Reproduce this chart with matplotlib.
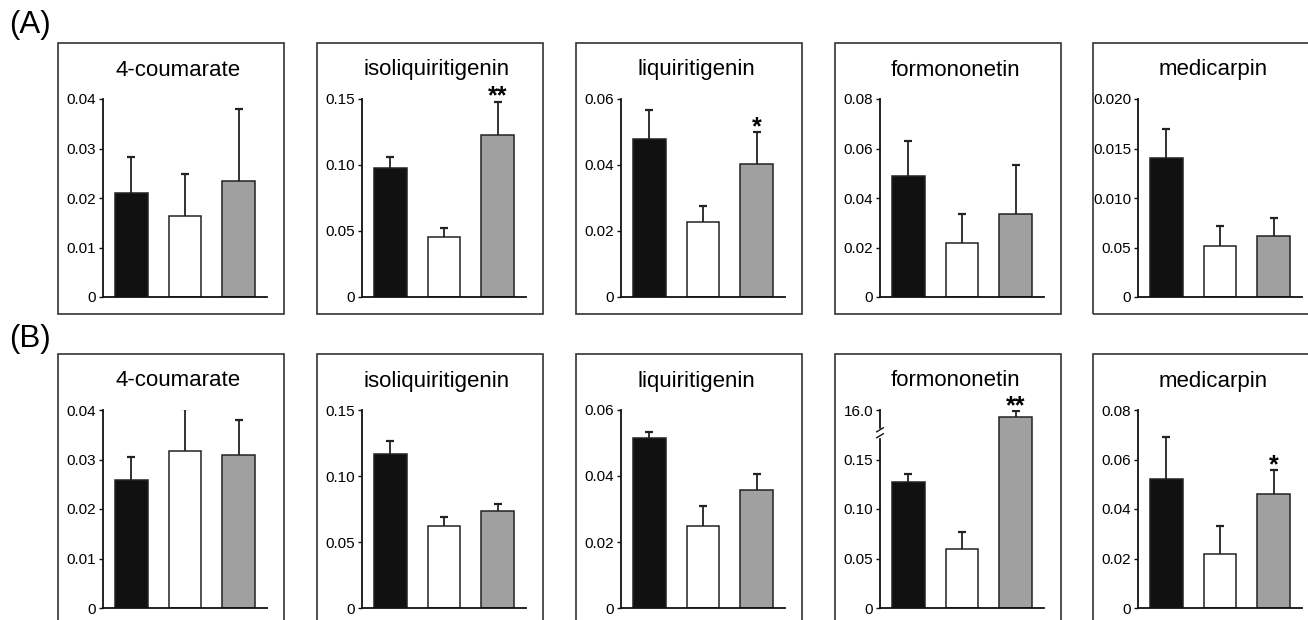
import matplotlib.pyplot as plt
import matplotlib.transforms as mtransforms
from matplotlib.patches import Rectangle

plt.rcParams['font.family'] = ['Liberation Sans', 'DejaVu Sans']

compounds = ['4-coumarate', 'isoliquiritigenin', 'liquiritigenin', 'formononetin', 'medicarpin']
bar_colors = ['#111111', '#ffffff', '#a0a0a0']

# (A) means and upper error, bar order: black, white, gray
a_means = [
    [0.0210, 0.0164, 0.0234],
    [0.0977, 0.0455, 0.1227],
    [0.0480, 0.0228, 0.0402],
    [0.0490, 0.0219, 0.0336],
    [0.0140, 0.0052, 0.0062],
]
a_errs = [
    [0.0073, 0.0084, 0.0146],
    [0.0083, 0.0065, 0.0253],
    [0.0088, 0.0049, 0.0097],
    [0.0140, 0.0115, 0.0196],
    [0.0030, 0.0020, 0.0018],
]
a_stars = [None, '**', '*', None, None]
a_ticks = [
    [0, 0.01, 0.02, 0.03, 0.04],
    [0, 0.05, 0.10, 0.15],
    [0, 0.02, 0.04, 0.06],
    [0, 0.02, 0.04, 0.06, 0.08],
    [0, 0.005, 0.010, 0.015, 0.020],
]
a_ticklabels = [
    ['0', '0.01', '0.02', '0.03', '0.04'],
    ['0', '0.05', '0.10', '0.15'],
    ['0', '0.02', '0.04', '0.06'],
    ['0', '0.02', '0.04', '0.06', '0.08'],
    ['0', '0.05', '0.010', '0.015', '0.020'],
]

# (B)
b_means = [
    [0.0258, 0.0317, 0.0309],
    [0.1166, 0.0618, 0.0735],
    [0.0516, 0.0250, 0.0357],
    [0.127, 0.060, 15.4],
    [0.0522, 0.0219, 0.0459],
]
b_errs = [
    [0.0047, 0.0085, 0.0071],
    [0.0101, 0.0071, 0.0055],
    [0.0016, 0.0058, 0.0050],
    [0.008, 0.017, 0.5],
    [0.0168, 0.0111, 0.0098],
]
b_stars = [None, None, None, '**', '*']
b_ticks = [
    [0, 0.01, 0.02, 0.03, 0.04],
    [0, 0.05, 0.10, 0.15],
    [0, 0.02, 0.04, 0.06],
    [0, 0.05, 0.10, 0.15, 16.0],
    [0, 0.02, 0.04, 0.06, 0.08],
]
b_ticklabels = [
    ['0', '0.01', '0.02', '0.03', '0.04'],
    ['0', '0.05', '0.10', '0.15'],
    ['0', '0.02', '0.04', '0.06'],
    ['0', '0.05', '0.10', '0.15', '16.0'],
    ['0', '0.02', '0.04', '0.06', '0.08'],
]

# broken axis for (B) formononetin: 14..16 squeezed above the break
BREAK_Y = 0.177


def broken(v):
    if v <= BREAK_Y:
        return v
    return BREAK_Y + (v - 14.0) / 2.0 * (0.2 - BREAK_Y)


W, H = 1308, 620
fig = plt.figure(figsize=(W / 100, H / 100), dpi=100)

box_lefts = [58, 317, 576, 835, 1093]
box_w, box_h = 226, 271
rows = [
    dict(top=43, label='(A)', label_y=25, means=a_means, errs=a_errs, stars=a_stars,
         ticks=a_ticks, labels=a_ticklabels),
    dict(top=354, label='(B)', label_y=339, means=b_means, errs=b_errs, stars=b_stars,
         ticks=b_ticks, labels=b_ticklabels),
]

x = [0, 1, 2]
for r, row in enumerate(rows):
    fig.text(9 / W, 1 - row['label_y'] / H, row['label'], fontsize=22.5, va='center', ha='left')
    top = row['top']
    for i, name in enumerate(compounds):
        bl = box_lefts[i]
        fig.add_artist(Rectangle((bl / W, 1 - (top + box_h) / H), box_w / W, box_h / H,
                                 transform=fig.transFigure, fill=False,
                                 edgecolor='#333333', linewidth=1.2))
        fig.text((bl + 120) / W, 1 - (top + 27) / H, name, fontsize=16,
                 ha='center', va='center')

        ax = fig.add_axes([(bl + 45) / W, 1 - (top + 254) / H, 164 / W, 198 / H])
        is_broken = (r == 1 and name == 'formononetin')
        f = broken if is_broken else (lambda v: v)
        if is_broken:
            ytick_pos = [0, 0.05, 0.10, 0.15, 0.20]
        else:
            ytick_pos = row['ticks'][i]

        means = row['means'][i]
        errs = row['errs'][i]
        tops = [f(m) for m in means]
        etops = [f(m + e) for m, e in zip(means, errs)]
        ax.bar(x, tops, width=0.61, color=bar_colors, edgecolor='#222222',
               linewidth=1.1, zorder=2)
        ax.vlines(x, tops, etops, color='#222222', linewidth=1.3, zorder=3)
        ax.hlines(etops, [v - 0.07 for v in x], [v + 0.07 for v in x],
                  color='#222222', linewidth=1.6, zorder=3)

        star = row['stars'][i]
        if star:
            ax.annotate(star, xy=(2, etops[2]), xytext=(0, -1.5), textcoords='offset points',
                        ha='center', va='baseline', fontsize=18, fontweight='bold',
                        annotation_clip=False)

        ax.set_xlim(-0.52, 2.52)
        ax.set_ylim(0, ytick_pos[-1])
        ax.set_yticks(ytick_pos)
        ax.set_yticklabels(row['labels'][i], fontsize=11)
        ax.set_xticks([])
        ax.tick_params(axis='y', length=3, width=1.0, pad=2, color='#111111')
        for s in ['top', 'right']:
            ax.spines[s].set_visible(False)
        for s in ['left', 'bottom']:
            ax.spines[s].set_linewidth(1.3)
            ax.spines[s].set_color('#111111')
        ax.patch.set_alpha(0)

        if is_broken:
            trans = mtransforms.blended_transform_factory(ax.transAxes, ax.transData)
            ax.plot([0, 0], [BREAK_Y - 0.003, BREAK_Y + 0.003], color='white', lw=2.5,
                    transform=trans, clip_on=False, zorder=5)
            for yc in (BREAK_Y - 0.003, BREAK_Y + 0.003):
                ax.plot([-0.02, 0.02], [yc - 0.002, yc + 0.002], color='#111111', lw=1.0,
                        transform=trans, clip_on=False, zorder=6)

fig.savefig('out.png', dpi=100)
